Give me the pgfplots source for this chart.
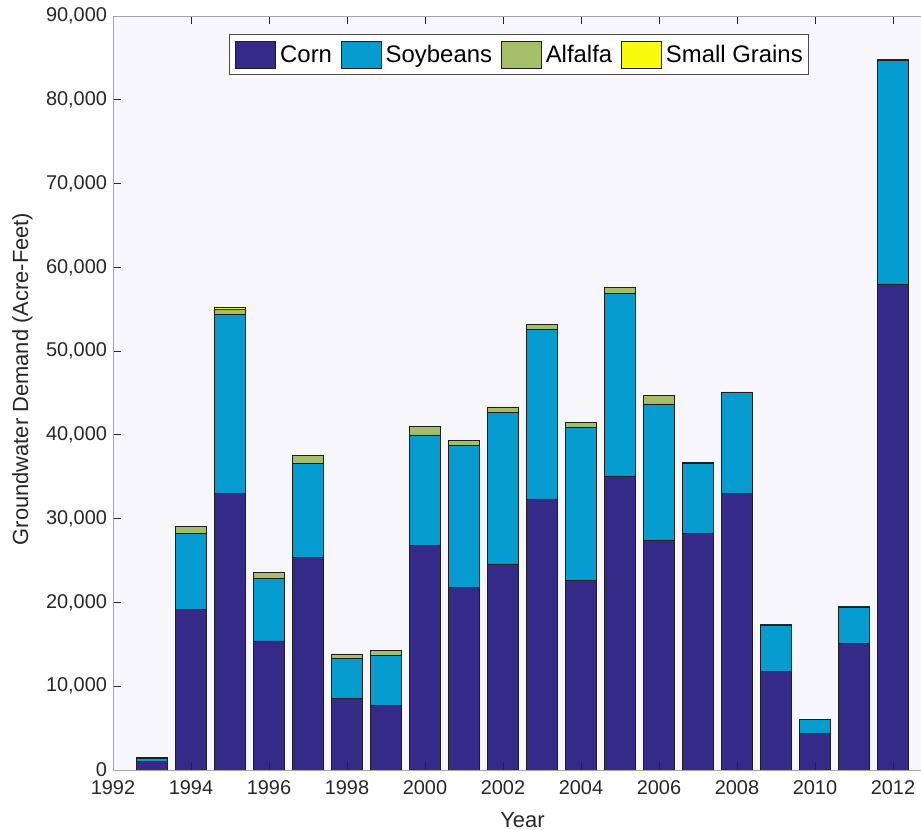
\documentclass[border=0pt]{standalone}
\usepackage{fontspec}
\setmainfont{Liberation Sans}
\usepackage{pgfplots}
\pgfplotsset{compat=1.18}
\usepackage{pgfplotstable}

\definecolor{corn}{RGB}{53,42,135}
\definecolor{soy}{RGB}{7,156,207}
\definecolor{alfalfa}{RGB}{165,190,106}
\definecolor{grains}{RGB}{249,251,14}
\definecolor{bgcol}{RGB}{247,247,251}
\definecolor{axisgray}{RGB}{165,165,165}
\definecolor{labelgray}{RGB}{38,38,38}
\definecolor{edgecol}{RGB}{30,30,30}

% groundwater demand by crop, acre-feet
\pgfplotstableread{
year corn soy alfalfa grains
1993 1000 400 80 20
1994 19180 9070 790 0
1995 33030 21360 630 250
1996 15400 7480 670 0
1997 25420 11180 920 0
1998 8550 4780 520 0
1999 7720 5970 550 0
2000 26780 13210 990 0
2001 21760 17030 560 0
2002 24590 18100 640 0
2003 32350 20250 550 0
2004 22640 18300 520 0
2005 35010 21890 710 0
2006 27450 16240 990 0
2007 28250 8350 160 0
2008 33030 12050 50 0
2009 11740 5570 20 0
2010 4370 1670 10 0
2011 15120 4340 20 0
2012 57970 26780 40 0
}\demand

\pgfplotsset{
  swatch/.style={legend image code/.code={%
    \draw[##1] (0bp,-13.5bp) rectangle (40bp,13.5bp);}},
}

\begin{document}
\begin{tikzpicture}
\path[use as bounding box] (-113bp,-60bp) rectangle (808bp,770bp);
\begin{axis}[
  at={(0,0)}, anchor=south west,
  scale only axis, width=819bp, height=754bp,
  ybar stacked, bar width=0.8,
  xmin=1992, xmax=2013, ymin=0, ymax=90000,
  axis background/.style={fill=bgcol},
  axis on top,
  axis line style={draw=axisgray, line width=0.8bp},
  tick align=inside, xtick pos=both, ytick pos=left,
  major tick length=8bp,
  tick style={draw=labelgray, line width=0.8bp},
  xtick={1992,1994,...,2012},
  ytick={0,10000,...,90000},
  scaled y ticks=false,
  /pgf/number format/assume math mode=true,
  tick label style={font=\fontsize{20}{24}\selectfont, text=labelgray},
  yticklabel style={/pgf/number format/1000 sep={,}, xshift=-2.5bp},
  xticklabel style={/pgf/number format/1000 sep={}, yshift=-7bp},
  xlabel={Year},
  xlabel style={font=\fontsize{22}{26}\selectfont, text=labelgray,
    at={(rel axis cs:0.5,0)}, anchor=base, yshift=-57bp, inner sep=0pt},
  ylabel={Groundwater Demand (Acre-Feet)},
  ylabel style={font=\fontsize{22}{26}\selectfont, text=labelgray,
    at={(rel axis cs:0,0.5)}, anchor=north, xshift=14bp, yshift=101bp,
    inner sep=0pt},
  legend columns=4,
  legend style={at={(rel axis cs:0,1)}, xshift=115.6bp, yshift=-18.3bp,
    anchor=north west, draw=black!70, fill=white, line width=0.8bp,
    inner xsep=6bp, inner ysep=6bp,
    font=\fontsize{24}{28}\selectfont, text=black,
    nodes={inner sep=0pt},
    /tikz/every odd column/.append style={column sep=4.5bp},
    /tikz/every even column/.append style={column sep=8.5bp}},
]
\addplot[fill=corn, draw=edgecol, line width=0.7bp, swatch]
  table[x=year, y=corn] {\demand};
\addplot[fill=soy, draw=edgecol, line width=0.7bp, swatch]
  table[x=year, y=soy] {\demand};
\addplot[fill=alfalfa, draw=edgecol, line width=0.7bp, swatch]
  table[x=year, y=alfalfa] {\demand};
\addplot[fill=grains, draw=edgecol, line width=0.7bp, swatch]
  table[x=year, y=grains] {\demand};
\legend{Corn, Soybeans, Alfalfa, Small Grains}
\end{axis}
\end{tikzpicture}
\end{document}
